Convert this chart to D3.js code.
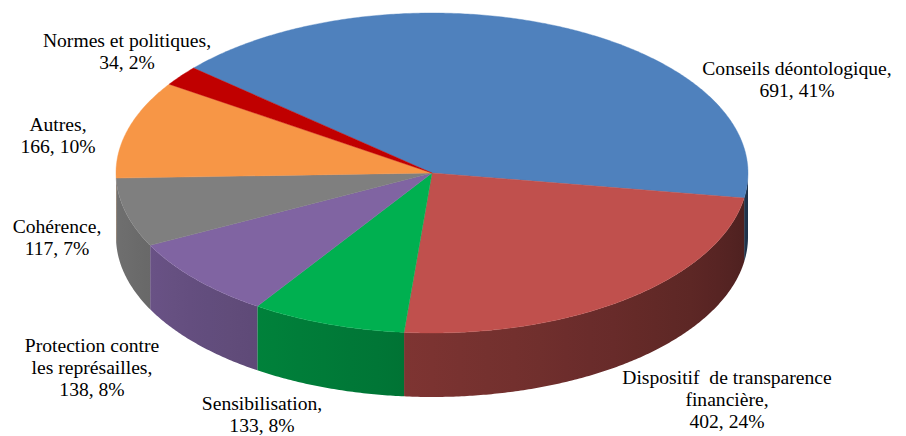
<!DOCTYPE html>
<html>
<head>
<meta charset="utf-8">
<script src="https://cdn.jsdelivr.net/npm/d3@7"></script>
<style>
  html, body { margin: 0; padding: 0; background: #fff; }
  svg { display: block; }
</style>
</head>
<body>
<svg id="chart" width="906" height="436"></svg>
<script>
// Répartition des saisines par thème
const categories = [
  "Conseils déontologique",
  "Dispositif  de transparence\nfinancière",
  "Sensibilisation",
  "Protection contre\nles représailles",
  "Cohérence",
  "Autres",
  "Normes et politiques"
];
const values = [691, 402, 133, 138, 117, 166, 34];
const colors = ["#4F81BD", "#C0504D", "#00B050", "#8064A2", "#7F7F7F", "#F79646", "#C00000"];

// Layout of the 3-D disc
const cx = 432, cy = 173, rx = 316, ry = 160, depth = 64;
const firstSliceAngle = -49 * Math.PI / 180;

// Label anchors: centre x and first baseline y for each slice
const labelAnchor = [
  [797, 75], [727, 384], [262, 410], [92, 352], [57, 233], [58, 131], [127, 47]
];
const fontSize = 19.6, lineGap = 22;

const svg = d3.select("#chart");
const defs = svg.append("defs");

const x = d3.scaleLinear().domain([-1, 1]).range([cx - rx, cx + rx]);
const y = d3.scaleLinear().domain([-1, 1]).range([cy - ry, cy + ry]);

const pie = d3.pie().sort(null).value(d => d)
  .startAngle(firstSliceAngle).endAngle(firstSliceAngle + 2 * Math.PI);
const arcs = pie(values);
const total = d3.sum(values);

// Point on the rim of the top ellipse (angle clockwise from 12 o'clock)
const rim = (a, dz = 0) => [x(Math.sin(a)), y(-Math.cos(a)) + dz];
const rimPoints = (a0, a1, dz) => {
  const n = Math.max(2, Math.ceil(Math.abs(a1 - a0) / (0.5 * Math.PI / 180)));
  return d3.range(n + 1).map(k => rim(a0 + (a1 - a0) * k / n, dz));
};

// Side shading: darker towards the right, lighter towards the left
const shade = d3.scaleLinear()
  .domain([100 * Math.PI / 180, 260 * Math.PI / 180])
  .range([0.41, 0.87]);

function darken(c, k) {
  const r = d3.rgb(c);
  return d3.rgb(r.r * k, r.g * k, r.b * k).formatHex();
}

// Side walls (front half only), shaded with a horizontal gradient
const sideG = svg.append("g");
arcs.forEach((d, i) => {
  const a0 = Math.max(d.startAngle, Math.PI / 2);
  const a1 = Math.min(d.endAngle, 3 * Math.PI / 2);
  if (a1 <= a0) return;
  const gid = "side" + i;
  const grad = defs.append("linearGradient")
    .attr("id", gid)
    .attr("gradientUnits", "userSpaceOnUse")
    .attr("x1", cx - rx).attr("x2", cx + rx)
    .attr("y1", 0).attr("y2", 0);
  // stops from left (angle 270°) to right (angle 90°)
  const ns = 36;
  d3.range(ns + 1).forEach(k => {
    const a = 3 * Math.PI / 2 - Math.PI * k / ns;
    const off = (x(Math.sin(a)) - (cx - rx)) / (2 * rx);
    grad.append("stop")
      .attr("offset", Math.max(0, Math.min(1, off)))
      .attr("stop-color", darken(colors[i], shade(a)));
  });
  const pts = rimPoints(a0, a1, 0).concat(rimPoints(a1, a0, depth));
  sideG.append("path")
    .attr("d", d3.line()(pts) + "Z")
    .attr("fill", `url(#${gid})`);
});

// Top faces
const topG = svg.append("g");
arcs.forEach((d, i) => {
  const pts = [[cx, cy]].concat(rimPoints(d.startAngle, d.endAngle, 0));
  topG.append("path")
    .attr("d", d3.line()(pts) + "Z")
    .attr("fill", colors[i])
    .attr("stroke", colors[i])
    .attr("stroke-width", 0.4);
});

// Data labels: "Catégorie, valeur, pourcentage"
const labelG = svg.append("g");

arcs.forEach((d, i) => {
  const pct = Math.round(d.value / total * 100);
  const nameLines = categories[i].split("\n");
  nameLines[nameLines.length - 1] += ",";
  const lines = nameLines.concat([`${d.value}, ${pct}%`]);
  const t = labelG.append("text")
    .attr("x", labelAnchor[i][0])
    .attr("y", labelAnchor[i][1])
    .attr("text-anchor", "middle")
    .attr("fill", "#000")
    .style("font-family", '"Liberation Serif"')
    .style("font-size", fontSize + "px")
    .style("white-space", "pre");
  lines.forEach((ln, j) => {
    t.append("tspan")
      .attr("x", labelAnchor[i][0])
      .attr("y", labelAnchor[i][1] + j * lineGap)
      .style("font-family", '"Liberation Serif"')
      .text(ln);
  });
});
</script>
</body>
</html>
